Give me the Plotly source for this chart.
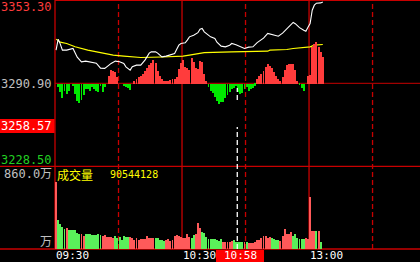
import plotly.graph_objects as go

# ---------------- data ----------------
prev_close = 3290.90
price_top = 3353.30
price_bottom = 3228.50
cursor_price = 3258.57
vol_top = 860.0          # 万
total_volume = "90544128"
cursor_time = "10:58"

time_labels = ["09:30", "10:30", "13:00"]
time_label_minutes = [-0.5, 59.5, 119.5]
half_hour_minutes = [29.5, 89.5, 149.5]
cursor_minute = 85.6

# minute index (0 = 09:31) and last price
price_min = [0, 1, 2, 3, 5, 7, 8, 10, 12, 14, 17, 19, 21, 23, 25, 26, 28, 30, 32, 33, 35, 36, 38, 40,
             42, 44, 45, 47, 48, 50, 52, 54, 56, 57, 58, 59, 61, 62, 63, 65, 67, 68, 69, 70, 72, 73,
             75, 76, 78, 80, 82, 83, 85, 87, 89, 91, 93, 95, 97, 98, 100, 103, 105, 107, 108, 110,
             112, 113, 115, 117, 118, 119, 120, 121, 122, 123, 125, 126]
price_val = [3315.93, 3324.21, 3320.45, 3315.93, 3315.93, 3316.69, 3317.21, 3310.67, 3307.14, 3307.67,
             3306.91, 3306.16, 3302.40, 3302.18, 3304.66, 3305.94, 3307.67, 3307.14, 3305.94, 3303.38,
             3300.90, 3303.38, 3304.66, 3304.66, 3308.42, 3313.68, 3314.66, 3314.66, 3313.68, 3310.90,
             3311.42, 3312.18, 3313.45, 3316.69, 3319.69, 3320.97, 3321.42, 3323.45, 3325.93, 3327.21,
             3329.09, 3331.72, 3332.25, 3329.69, 3326.84, 3325.93, 3324.73, 3321.95, 3318.94, 3318.42,
             3319.69, 3320.97, 3320.07, 3318.42, 3317.21, 3318.19, 3318.42, 3321.57, 3324.21, 3324.96,
             3328.49, 3327.21, 3326.46, 3328.72, 3330.22, 3333.45, 3336.76, 3335.86, 3332.85, 3330.97,
             3330.22, 3333.23, 3336.01, 3346.01, 3349.77, 3351.27, 3351.50, 3352.25]

# average price line
avg_min = [0, 2, 5, 9, 15, 21, 27, 32, 37, 40, 50, 58, 60, 63, 67, 70, 83, 100, 101, 106, 109, 112,
           118, 120, 122, 124, 126]
avg_val = [3324.21, 3321.95, 3320.97, 3318.42, 3315.93, 3313.90, 3312.18, 3311.42, 3310.90, 3310.45,
           3310.82, 3310.90, 3311.42, 3312.18, 3312.93, 3314.06, 3314.66, 3315.18, 3315.93, 3315.93,
           3316.46, 3317.21, 3317.97, 3318.42, 3319.69, 3320.22, 3320.22]

# red/green strength bars (one per minute, 0..126)
strength = [0, -3, -8, -14, -7, -10, -7, 0, -2, -10, -17, -19, -16, -11, -5, -5, -7, -3, -5, -7,
            -8, -2, -8, -3, 0, 8, 14, 13, 12, 7, 0, 0, -2, -3, -4, -6, 0, 3, 5, 7,
            8, 10, 13, 16, 19, 21, 24, 21, 13, 8, 5, 3, 3, 3, 3.5, 4.5, 5, 7, 15, 21,
            24, 17, 16, 14, 26, 22, 16, 15, 23, 22, 10, 2.5, -3.3, -6.7, -9, -13, -17, -20, -18, -18,
            -14, -11, -8, -5, -4, -2.5, -8, -10, -9, -5, -3, -6.7, -5, -4.3, -1.7, 5, 7.7, 10, 13.3, 17,
            20, 18, 15.7, 11.7, 8.3, 5, 3.3, 6.7, 14.3, 19, 20, 20, 20, 14.3, 3.3, -1.5, -4, -7, 0, 7.5,
            8.5, 37, 40, 41.7, 36.7, 31.7, 26.7]

# volume per minute (万) and up(1)/down(0)
volume = [697, 294, 253, 229, 201, 218, 190, 190, 190, 190, 166, 149, 156, 128, 156, 156, 156, 146, 138, 138,
          156, 138, 128, 146, 125, 125, 125, 107, 135, 107, 125, 94, 135, 125, 122, 125, 114, 94, 107, 94,
          104, 97, 104, 135, 114, 114, 114, 114, 114, 94, 94, 80, 94, 104, 80, 94, 135, 146, 135, 125,
          114, 114, 156, 125, 114, 146, 156, 270, 218, 177, 166, 125, 104, 104, 104, 104, 94, 80, 104, 73,
          73, 73, 73, 80, 86, 73, 73, 73, 73, 73, 73, 62, 62, 62, 73, 86, 94, 114, 135, 135,
          114, 125, 114, 104, 94, 94, 80, 135, 201, 156, 156, 177, 135, 156, 114, 104, 104, 104, 114, 104,
          541, 187, 187, 187, 187, 73]
vol_up = [1, 0, 0, 0, 0, 1, 0, 0, 0, 0, 0, 0, 1, 1, 0, 0, 0, 0, 0, 0,
          0, 0, 1, 1, 1, 1, 1, 1, 0, 0, 0, 0, 0, 0, 0, 1, 1, 1, 1, 1,
          1, 1, 1, 1, 1, 1, 1, 0, 0, 0, 0, 0, 1, 1, 1, 1, 1, 1, 1, 1,
          1, 1, 1, 1, 0, 0, 1, 1, 1, 0, 0, 0, 0, 0, 0, 0, 0, 0, 0, 1,
          1, 1, 1, 1, 0, 0, 0, 0, 0, 1, 0, 1, 1, 1, 1, 1, 1, 1, 1, 1,
          1, 1, 0, 0, 0, 0, 1, 1, 1, 1, 1, 1, 0, 0, 0, 0, 0, 0, 1, 1,
          1, 1, 1, 0, 1, 0]

# ---------------- layout helpers ----------------
W, H = 420, 262
X0 = 55
PX_PER_MIN = 2.117
RED_GRID = "#c80000"
FONT_MONO = "DejaVu Sans Mono, Noto Sans CJK SC"
BAR_W = 0.44


def xp(px):
    return px / W


def yp(py):
    return 1 - py / H


x_range = [-0.5, (W - X0) / PX_PER_MIN - 0.5]
Y_TOP, Y_MID, Y_PBOT, Y_VBOT = 0.5, 83.3, 166.3, 249.0

fig = go.Figure()

minutes_s = list(range(len(strength)))
fig.add_trace(go.Bar(
    x=minutes_s, y=strength, width=BAR_W, yaxis="y2",
    marker=dict(color=["#ff3c3c" if v > 0 else "#00e800" for v in strength], line=dict(width=0)),
    hoverinfo="skip"))

fig.add_trace(go.Scatter(x=avg_min, y=avg_val, mode="lines", yaxis="y",
                         line=dict(color="#ffff00", width=1.1), hoverinfo="skip"))
fig.add_trace(go.Scatter(x=price_min, y=price_val, mode="lines", yaxis="y",
                         line=dict(color="#ffffff", width=1.1), hoverinfo="skip"))

minutes_v = list(range(len(volume)))
fig.add_trace(go.Bar(
    x=minutes_v, y=volume, width=BAR_W, yaxis="y3",
    marker=dict(color=["#ff5a5a" if u else "#5af05a" for u in vol_up], line=dict(width=0)),
    hoverinfo="skip"))

shapes = []
# horizontal lines
shapes.append(dict(type="line", xref="paper", yref="paper", x0=xp(X0), x1=1, y0=yp(Y_TOP), y1=yp(Y_TOP),
                   line=dict(color=RED_GRID, width=1)))
shapes.append(dict(type="line", xref="paper", yref="paper", x0=xp(X0), x1=1, y0=yp(Y_MID), y1=yp(Y_MID),
                   line=dict(color=RED_GRID, width=1)))
shapes.append(dict(type="line", xref="paper", yref="paper", x0=0, x1=1, y0=yp(Y_PBOT), y1=yp(Y_PBOT),
                   line=dict(color=RED_GRID, width=1.3)))
shapes.append(dict(type="line", xref="paper", yref="paper", x0=0, x1=1, y0=yp(Y_VBOT), y1=yp(Y_VBOT),
                   line=dict(color=RED_GRID, width=1.3)))
# left border
shapes.append(dict(type="line", xref="paper", yref="paper", x0=xp(X0), x1=xp(X0), y0=yp(Y_VBOT), y1=1,
                   line=dict(color=RED_GRID, width=1.3)))
# hour lines
for m in time_label_minutes[1:]:
    shapes.append(dict(type="line", xref="x", yref="paper", x0=m, x1=m, y0=yp(Y_VBOT), y1=1,
                       line=dict(color=RED_GRID, width=1.3)))
for m in half_hour_minutes:
    shapes.append(dict(type="line", xref="x", yref="paper", x0=m, x1=m, y0=yp(Y_VBOT), y1=1,
                       line=dict(color=RED_GRID, width=1.3, dash="5px,3px")))
# cursor
shapes.append(dict(type="line", xref="x", yref="paper", x0=cursor_minute, x1=cursor_minute,
                   y0=yp(100), y1=yp(88), line=dict(color="#ffffff", width=1.3, dash="5px,3px"), layer="above"))
shapes.append(dict(type="line", xref="x", yref="paper", x0=cursor_minute, x1=cursor_minute,
                   y0=yp(Y_VBOT), y1=yp(127), line=dict(color="#ffffff", width=1.3, dash="5px,3px"), layer="above"))
# label boxes
shapes.append(dict(type="rect", xref="paper", yref="paper", x0=0, x1=xp(54.5), y0=yp(133), y1=yp(119),
                   fillcolor="#ff0000", line=dict(width=0), layer="above"))
shapes.append(dict(type="rect", xref="paper", yref="paper", x0=xp(216), x1=xp(264), y0=yp(262), y1=yp(250),
                   fillcolor="#ff0000", line=dict(width=0), layer="above"))
for s in shapes:
    s.setdefault("layer", "below")

ann = []


def label(text, x, y, color, size=12, xanchor="right", font=FONT_MONO):
    ann.append(dict(text=text, xref="paper", yref="paper", x=xp(x), y=yp(y), xanchor=xanchor,
                    yanchor="middle", showarrow=False, font=dict(family=font, size=size, color=color),
                    borderpad=0))


label(f"{price_top:.2f}", 53, 6.5, "#ff3c3c")
label(f"{prev_close:.2f}", 53, 83.5, "#c0c0c0")
label(f"{cursor_price:.2f}", 53, 126, "#ffffff")
label(f"{price_bottom:.2f}", 53, 159.5, "#22d022")
label(f"{vol_top:.1f}万", 53, 174, "#c0c0c0")
label("万", 53, 241.5, "#c0c0c0")
label("成交量", 56, 174, "#ffff00", size=12, xanchor="left", font="Noto Sans CJK SC")
label(total_volume, 109, 174, "#ffff00", size=10, xanchor="left")

TIME_Y = 255.5
for t, m in zip(time_labels, time_label_minutes):
    ann.append(dict(text=t, xref="x", yref="paper", x=m, y=yp(TIME_Y), xanchor="left", yanchor="middle",
                    showarrow=False, font=dict(family=FONT_MONO, size=11, color="#ffffff"), borderpad=0))
label(cursor_time, 240, TIME_Y, "#ffffff", size=11, xanchor="center")

fig.update_layout(
    width=W, height=H, margin=dict(l=0, r=0, t=0, b=0),
    paper_bgcolor="#000000", plot_bgcolor="#000000",
    showlegend=False, bargap=0, barmode="overlay",
    xaxis=dict(domain=[xp(X0), 1], range=x_range, visible=False, fixedrange=True),
    yaxis=dict(domain=[yp(Y_PBOT), yp(Y_TOP)], range=[price_bottom, price_top], visible=False),
    yaxis2=dict(domain=[yp(Y_PBOT), yp(Y_TOP)], overlaying="y", range=[-82.9, 82.9], visible=False),
    yaxis3=dict(domain=[yp(Y_VBOT), yp(Y_PBOT)], range=[0, vol_top], visible=False, anchor="x"),
    shapes=shapes, annotations=ann,
)

fig.write_html("out.html")
